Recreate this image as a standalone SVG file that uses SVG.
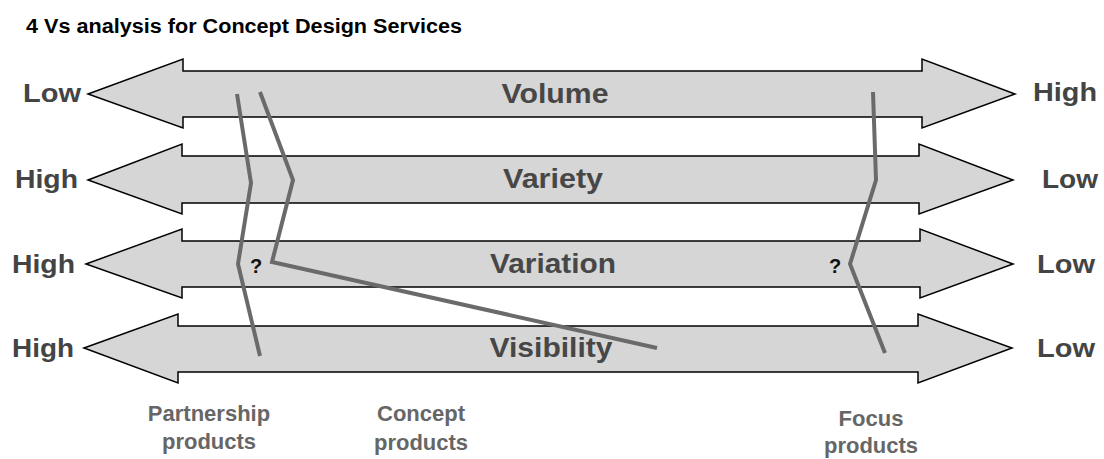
<svg xmlns="http://www.w3.org/2000/svg" width="1104" height="459" viewBox="0 0 1104 459">
  <style>
    .bar { fill: #d6d6d6; stroke: #000; stroke-width: 1.5; stroke-linejoin: miter; }
    .end { font-family: "Liberation Sans", Arial, sans-serif; font-weight: bold; font-size: 26px; fill: #444; }
    .axis { font-family: "Liberation Sans", Arial, sans-serif; font-weight: bold; font-size: 28px; fill: #474747; text-anchor: middle; }
    .track { fill: none; stroke: #6a6a6a; stroke-width: 4; stroke-linejoin: miter; }
    .q { font-family: "Liberation Sans", Arial, sans-serif; font-weight: bold; font-size: 20px; fill: #111; }
    .grp { font-family: "Liberation Sans", Arial, sans-serif; font-weight: bold; font-size: 22px; fill: #666; text-anchor: middle; }
    .title { font-family: "Liberation Sans", Arial, sans-serif; font-weight: bold; font-size: 20px; fill: #000; }
  </style>

  <text class="title" x="26" y="33" textLength="436" lengthAdjust="spacingAndGlyphs">4 Vs analysis for Concept Design Services</text>

  <!-- double-headed scale arrows -->
  <g id="volume">
    <polygon class="bar" points="88,94 183,59 183,71 922,71 922,59 1015,94 922,128 922,117 183,117 183,128"/>
    <text class="axis" x="555" y="103" textLength="107" lengthAdjust="spacingAndGlyphs">Volume</text>
    <text class="end" x="23" y="102" textLength="58" lengthAdjust="spacingAndGlyphs">Low</text>
    <text class="end" x="1033" y="101" textLength="64" lengthAdjust="spacingAndGlyphs">High</text>
  </g>
  <g id="variety">
    <polygon class="bar" points="88,180 182,144 182,156 919,156 919,144 1013,180 919,214 919,203 182,203 182,214"/>
    <text class="axis" x="553" y="188" textLength="100" lengthAdjust="spacingAndGlyphs">Variety</text>
    <text class="end" x="15" y="188" textLength="63" lengthAdjust="spacingAndGlyphs">High</text>
    <text class="end" x="1042" y="188" textLength="56" lengthAdjust="spacingAndGlyphs">Low</text>
  </g>
  <g id="variation">
    <polygon class="bar" points="86,264 182,229 182,241 920,241 920,229 1013,264 920,298 920,287 182,287 182,298"/>
    <text class="axis" x="553" y="273" textLength="126" lengthAdjust="spacingAndGlyphs">Variation</text>
    <text class="end" x="12" y="273" textLength="63" lengthAdjust="spacingAndGlyphs">High</text>
    <text class="end" x="1037" y="273" textLength="58" lengthAdjust="spacingAndGlyphs">Low</text>
  </g>
  <g id="visibility">
    <polygon class="bar" points="84,348 178,314 178,326 918,326 918,314 1012,348 918,383 918,372 178,372 178,383"/>
    <text class="axis" x="551" y="357" textLength="123" lengthAdjust="spacingAndGlyphs">Visibility</text>
    <text class="end" x="12" y="357" textLength="62" lengthAdjust="spacingAndGlyphs">High</text>
    <text class="end" x="1037" y="357" textLength="58" lengthAdjust="spacingAndGlyphs">Low</text>
  </g>

  <!-- product profiles across the four scales -->
  <g id="connectors">
    <polyline class="track" points="237,94 251,183 238,264 260,356"/>
    <polyline class="track" points="260,92 293,180 272,262 657,348"/>
    <polyline class="track" points="873,92 876,180 850,264 885,353"/>
  </g>

  <g id="unknowns">
    <text class="q" x="250" y="273">?</text>
    <text class="q" x="829" y="273">?</text>
  </g>

  <g id="partnership">
    <text class="grp" x="209" y="421">Partnership</text>
    <text class="grp" x="209" y="449">products</text>
  </g>
  <g id="concept">
    <text class="grp" x="421" y="421">Concept</text>
    <text class="grp" x="421" y="450">products</text>
  </g>
  <g id="focus">
    <text class="grp" x="871" y="426">Focus</text>
    <text class="grp" x="871" y="453">products</text>
  </g>
</svg>
